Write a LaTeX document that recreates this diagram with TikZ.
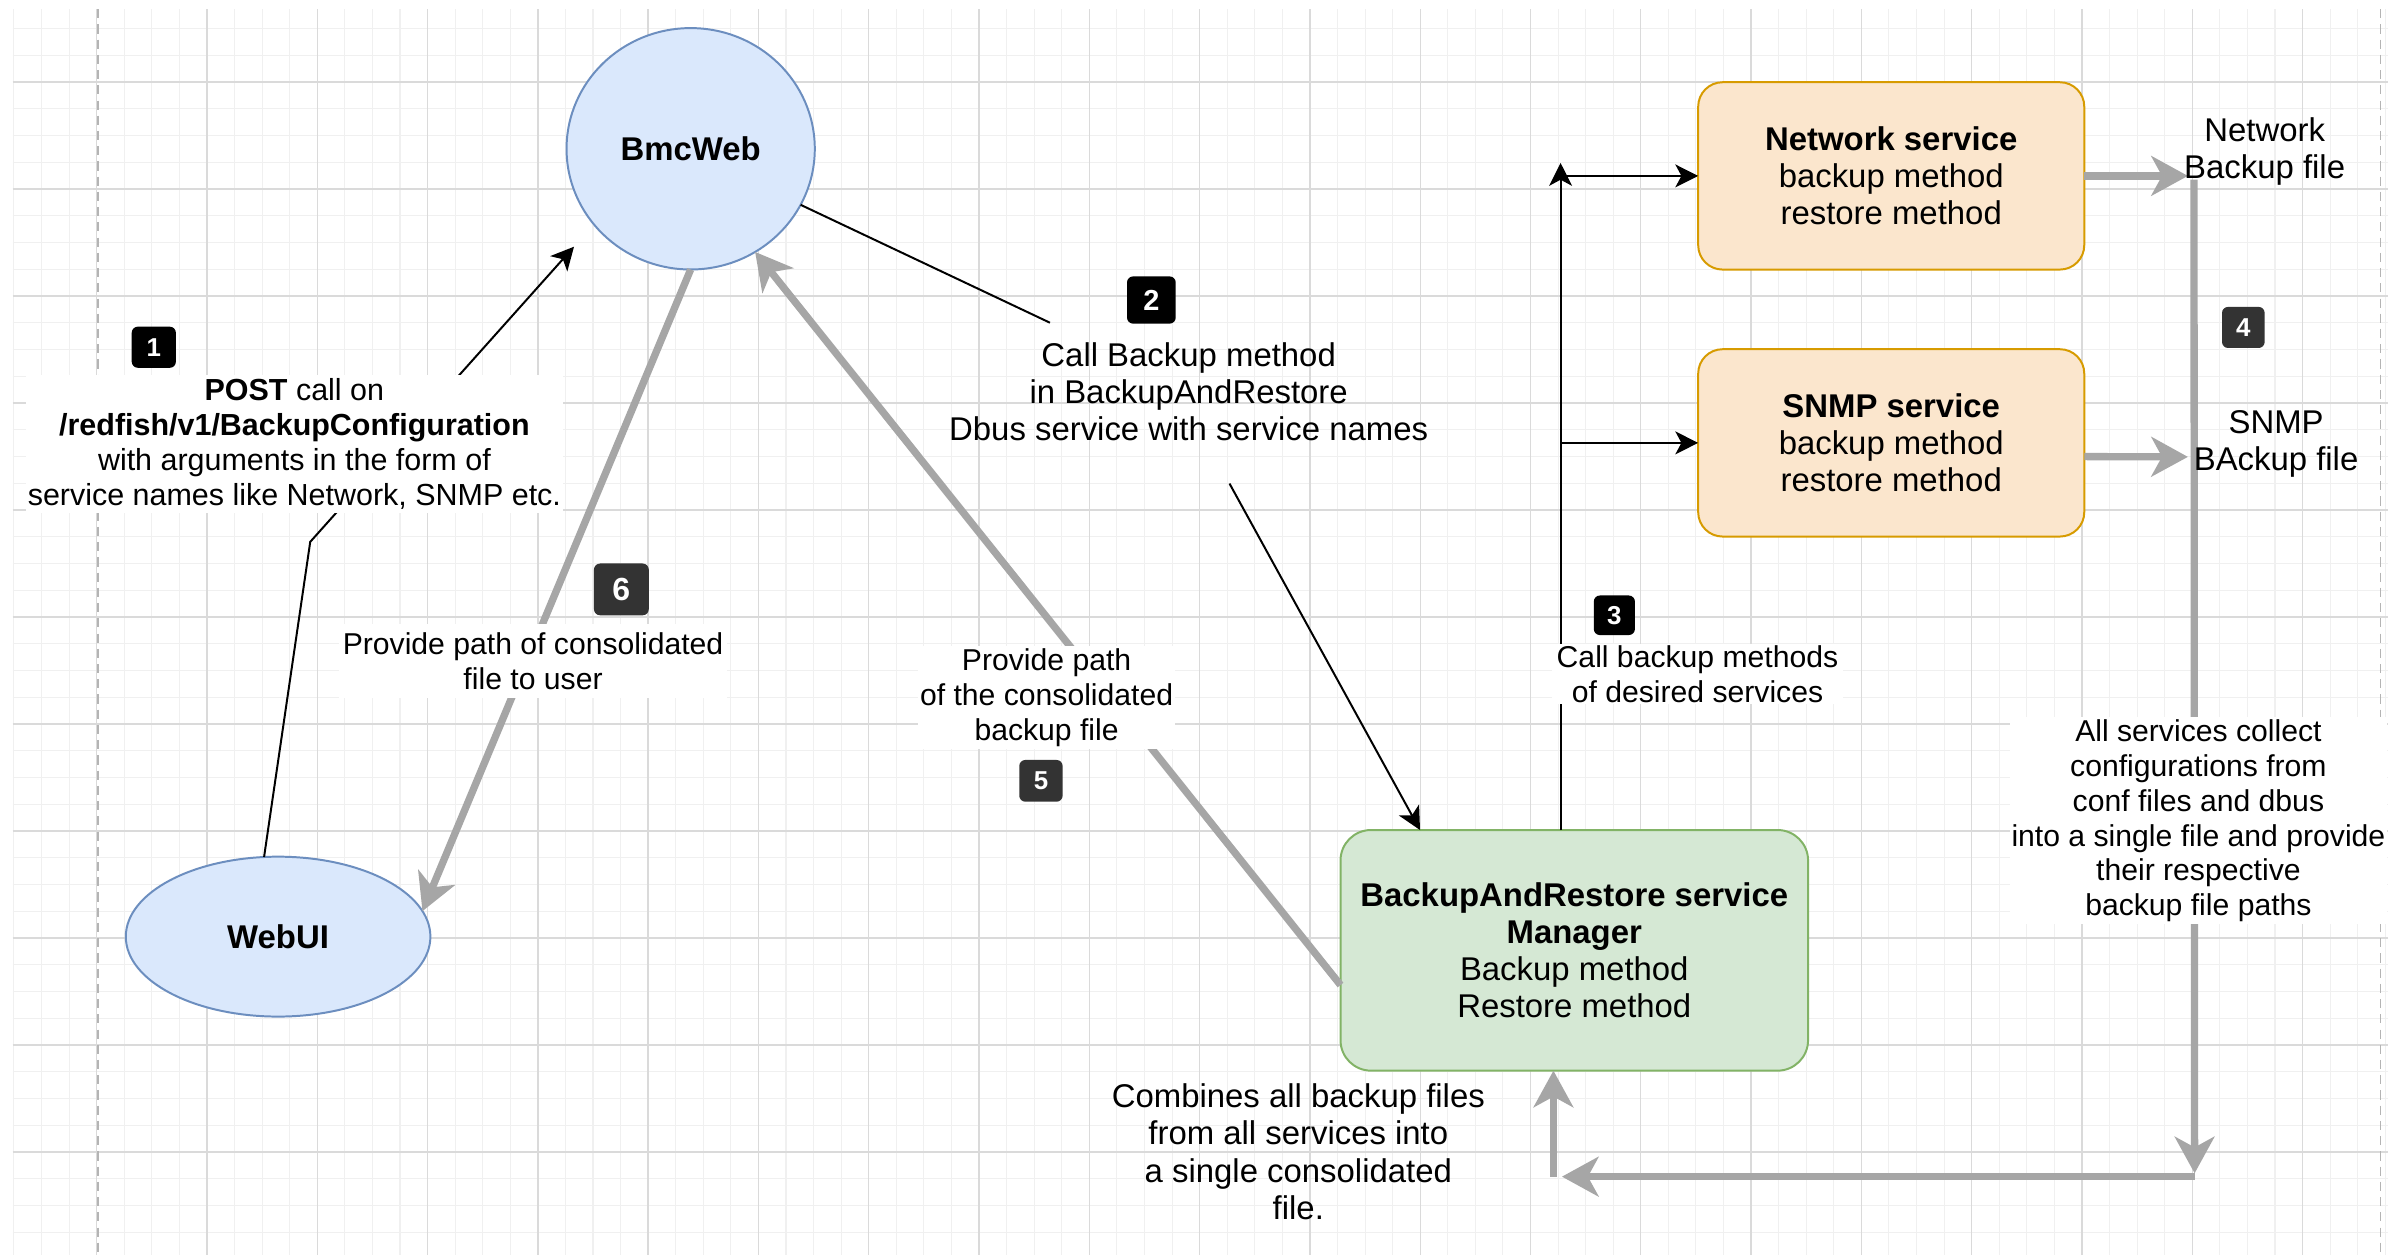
\documentclass[tikz,border=0pt]{standalone}
\usepackage{fontspec}
\setmainfont{Liberation Sans}
\usetikzlibrary{arrows.meta,shapes.geometric,calc}
\definecolor{gridmaj}{HTML}{DADADA}
\definecolor{gridmin}{HTML}{F0F0F0}
\definecolor{pagedash}{HTML}{B4B4B4}
\definecolor{blufill}{HTML}{DAE8FC}
\definecolor{bludraw}{HTML}{6C8EBF}
\definecolor{orfill}{HTML}{FBE6CD}
\definecolor{ordraw}{HTML}{D79B00}
\definecolor{grfill}{HTML}{D5E8D4}
\definecolor{grdraw}{HTML}{82B366}
\definecolor{arrgray}{HTML}{A6A6A6}
\definecolor{badgedark}{HTML}{333333}
\begin{document}
\begin{tikzpicture}[x=1pt,y=-1pt,
  big/.style={font=\fontsize{21.6}{24.4}\selectfont},
  small/.style={font=\fontsize{19.8}{22.8}\selectfont},
  oval/.style={ellipse, draw=bludraw, fill=blufill, line width=1.3pt, inner sep=0pt, outer sep=0pt, big},
  svcbox/.style={draw=ordraw, fill=orfill, line width=1.3pt, rounded corners=16pt, minimum width=253.5pt, minimum height=123pt, inner sep=0pt, outer sep=0pt, align=center, big},
  mgrbox/.style={draw=grdraw, fill=grfill, line width=1.3pt, rounded corners=20pt, minimum width=307pt, minimum height=158pt, inner sep=0pt, outer sep=0pt, align=center, big},
  lbl/.style={align=center, inner sep=1pt},
  wlbl/.style={lbl, fill=white},
  badge/.style={fill=black, rounded corners=4pt, text=white, inner sep=0pt, font=\bfseries\fontsize{17}{17}\selectfont},
  dbadge/.style={badge, fill=badgedark},
  blk/.style={draw=black, line width=1.3pt, -{Stealth[length=15pt, width=15pt, inset=4pt]}},
  blkline/.style={draw=black, line width=1.3pt},
  gry/.style={draw=arrgray, line width=4.8pt, -{Stealth[length=24pt, width=26pt, inset=7pt]}},
  gryline/.style={draw=arrgray, line width=4.8pt}
]
\useasboundingbox (0,0) rectangle (1568,824);
\fill[white] (0,0) rectangle (1568,824);
% grid
\begin{scope}
\clip (8.5,6) rectangle (1568,824);
\foreach \i in {-7,...,79} \draw[gridmin, line width=0.7pt] ({135.9+18.105*\i},6) -- ({135.9+18.105*\i},824);
\foreach \j in {-2,...,43} \draw[gridmin, line width=0.7pt] (8.5,{53.8+17.565*\j}) -- (1568,{53.8+17.565*\j});
\foreach \i in {-1,...,19} \draw[gridmaj, line width=0.9pt] ({135.9+72.42*\i},6) -- ({135.9+72.42*\i},824);
\foreach \j in {0,...,10} \draw[gridmaj, line width=0.9pt] (8.5,{53.8+70.26*\j}) -- (1568,{53.8+70.26*\j});
\end{scope}
\draw[pagedash, line width=0.9pt, dash pattern=on 6pt off 4pt] (64.3,6) -- (64.3,824);
\draw[pagedash, line width=0.9pt, dash pattern=on 6pt off 4pt] (1563,6) -- (1563,824);

% nodes
\node[oval, minimum width=163pt, minimum height=158.5pt] (bmc) at (453.5,97.7) {\textbf{BmcWeb}};
\node[oval, minimum width=200pt, minimum height=105pt] (webui) at (182.6,615) {\textbf{WebUI}};
\node[svcbox] (net) at (1241.8,115.5) {\textbf{Network service}\\backup method\\restore method};
\node[svcbox] (snmp) at (1241.8,290.8) {\textbf{SNMP service}\\backup method\\restore method};
\node[mgrbox] (bar) at (1033.7,624) {\textbf{BackupAndRestore service}\\\textbf{Manager}\\Backup method\\Restore method};

% coordinates
\coordinate (k1) at (203.7,355.8);
\coordinate (t1) at (376.9,162);
\coordinate (c2a) at (689.4,211.9);
\coordinate (c2b) at (807.3,317.5);
\coordinate (top3) at (1024.7,107);
\coordinate (gn) at (1436.6,115.5);
\coordinate (gs) at (1436.6,300);
\coordinate (v4a) at (1440.6,118);
\coordinate (v4b) at (1441,770.4);
\coordinate (h4a) at (1441,772.6);
\coordinate (h4b) at (1025.6,772.6);
\coordinate (u4) at (1020,772.6);

% black connectors
\draw[blk] (webui.100) -- (k1) -- (t1);
\draw[blkline] (bmc.-27) -- (c2a);
\draw[blk] (c2b) -- ($(bar.north)+(-101.3,0)$);
\draw[blk] ($(bar.north)+(-9,0)$) -- (top3);
\draw[blk] (top3 |- net.west) -- (net.west);
\draw[blk] (top3 |- snmp.west) -- (snmp.west);

% gray connectors
\draw[gry] (bmc.south) -- (webui.10);
\draw[gry] ([yshift=-22.8pt]bar.west) -- (bmc.-58);
\draw[gry] (net.east) -- (gn);
\draw[gry] ([yshift=-9pt]snmp.east) -- (gs);
\draw[gry] (v4a) -- (v4b);
\draw[gry] (h4a) -- (h4b);
\draw[gry] (u4) -- ($(bar.south)+(-13.7,0)$);

% labels
\node[wlbl, minimum width=351.5pt, minimum height=91pt, font=\fontsize{20}{23}\selectfont] (l1) at (193.3,291.6)
  {\textbf{POST} call on\\\textbf{/redfish/v1/BackupConfiguration}\\with arguments in the form of\\service names like Network, SNMP etc.};
\node[lbl, big] (l2) at (780.5,257) {Call Backup method\\in BackupAndRestore\\Dbus service with service names};
\node[wlbl, small, inner xsep=3pt] (l3) at (1114.6,442.7) {Call backup methods\\of desired services};
\node[wlbl, small, minimum width=248pt, minimum height=136pt] (l4) at (1443.5,539)
  {All services collect\\configurations from\\conf files and dbus\\into a single file and provide\\their respective\\backup file paths};
\node[wlbl, small, minimum width=168pt, minimum height=67.5pt] (l5) at (687.2,458) {Provide path\\of the consolidated\\backup file};
\node[wlbl, small, minimum width=255pt, minimum height=48pt] (l6) at (350,434) {Provide path of consolidated\\file to user};
\node[lbl, big] (lc) at (852.5,756.2) {Combines all backup files\\from all services into\\a single consolidated\\file.};
\node[lbl, big] (lnet) at (1487,99.5) {Network\\Backup file};
\node[lbl, big] (lsnmp) at (1494.5,291.5) {SNMP\\BAckup file};

% badges
\node[badge, minimum width=29pt, minimum height=27pt] (b1) at (101,228) {1};
\node[badge, minimum width=32pt, minimum height=31pt, font=\bfseries\fontsize{19}{19}\selectfont] (b2) at (756,197) {2};
\node[badge, minimum width=27pt, minimum height=26pt] (b3) at (1060,404) {3};
\node[dbadge, minimum width=28pt, minimum height=27pt] (b4) at (1473,215) {4};
\node[dbadge, minimum width=28.5pt, minimum height=27.4pt] (b5) at (683.5,512.7) {5};
\node[dbadge, minimum width=36pt, minimum height=34pt, font=\bfseries\fontsize{21}{21}\selectfont] (b6) at (408,387) {6};
\end{tikzpicture}
\end{document}
